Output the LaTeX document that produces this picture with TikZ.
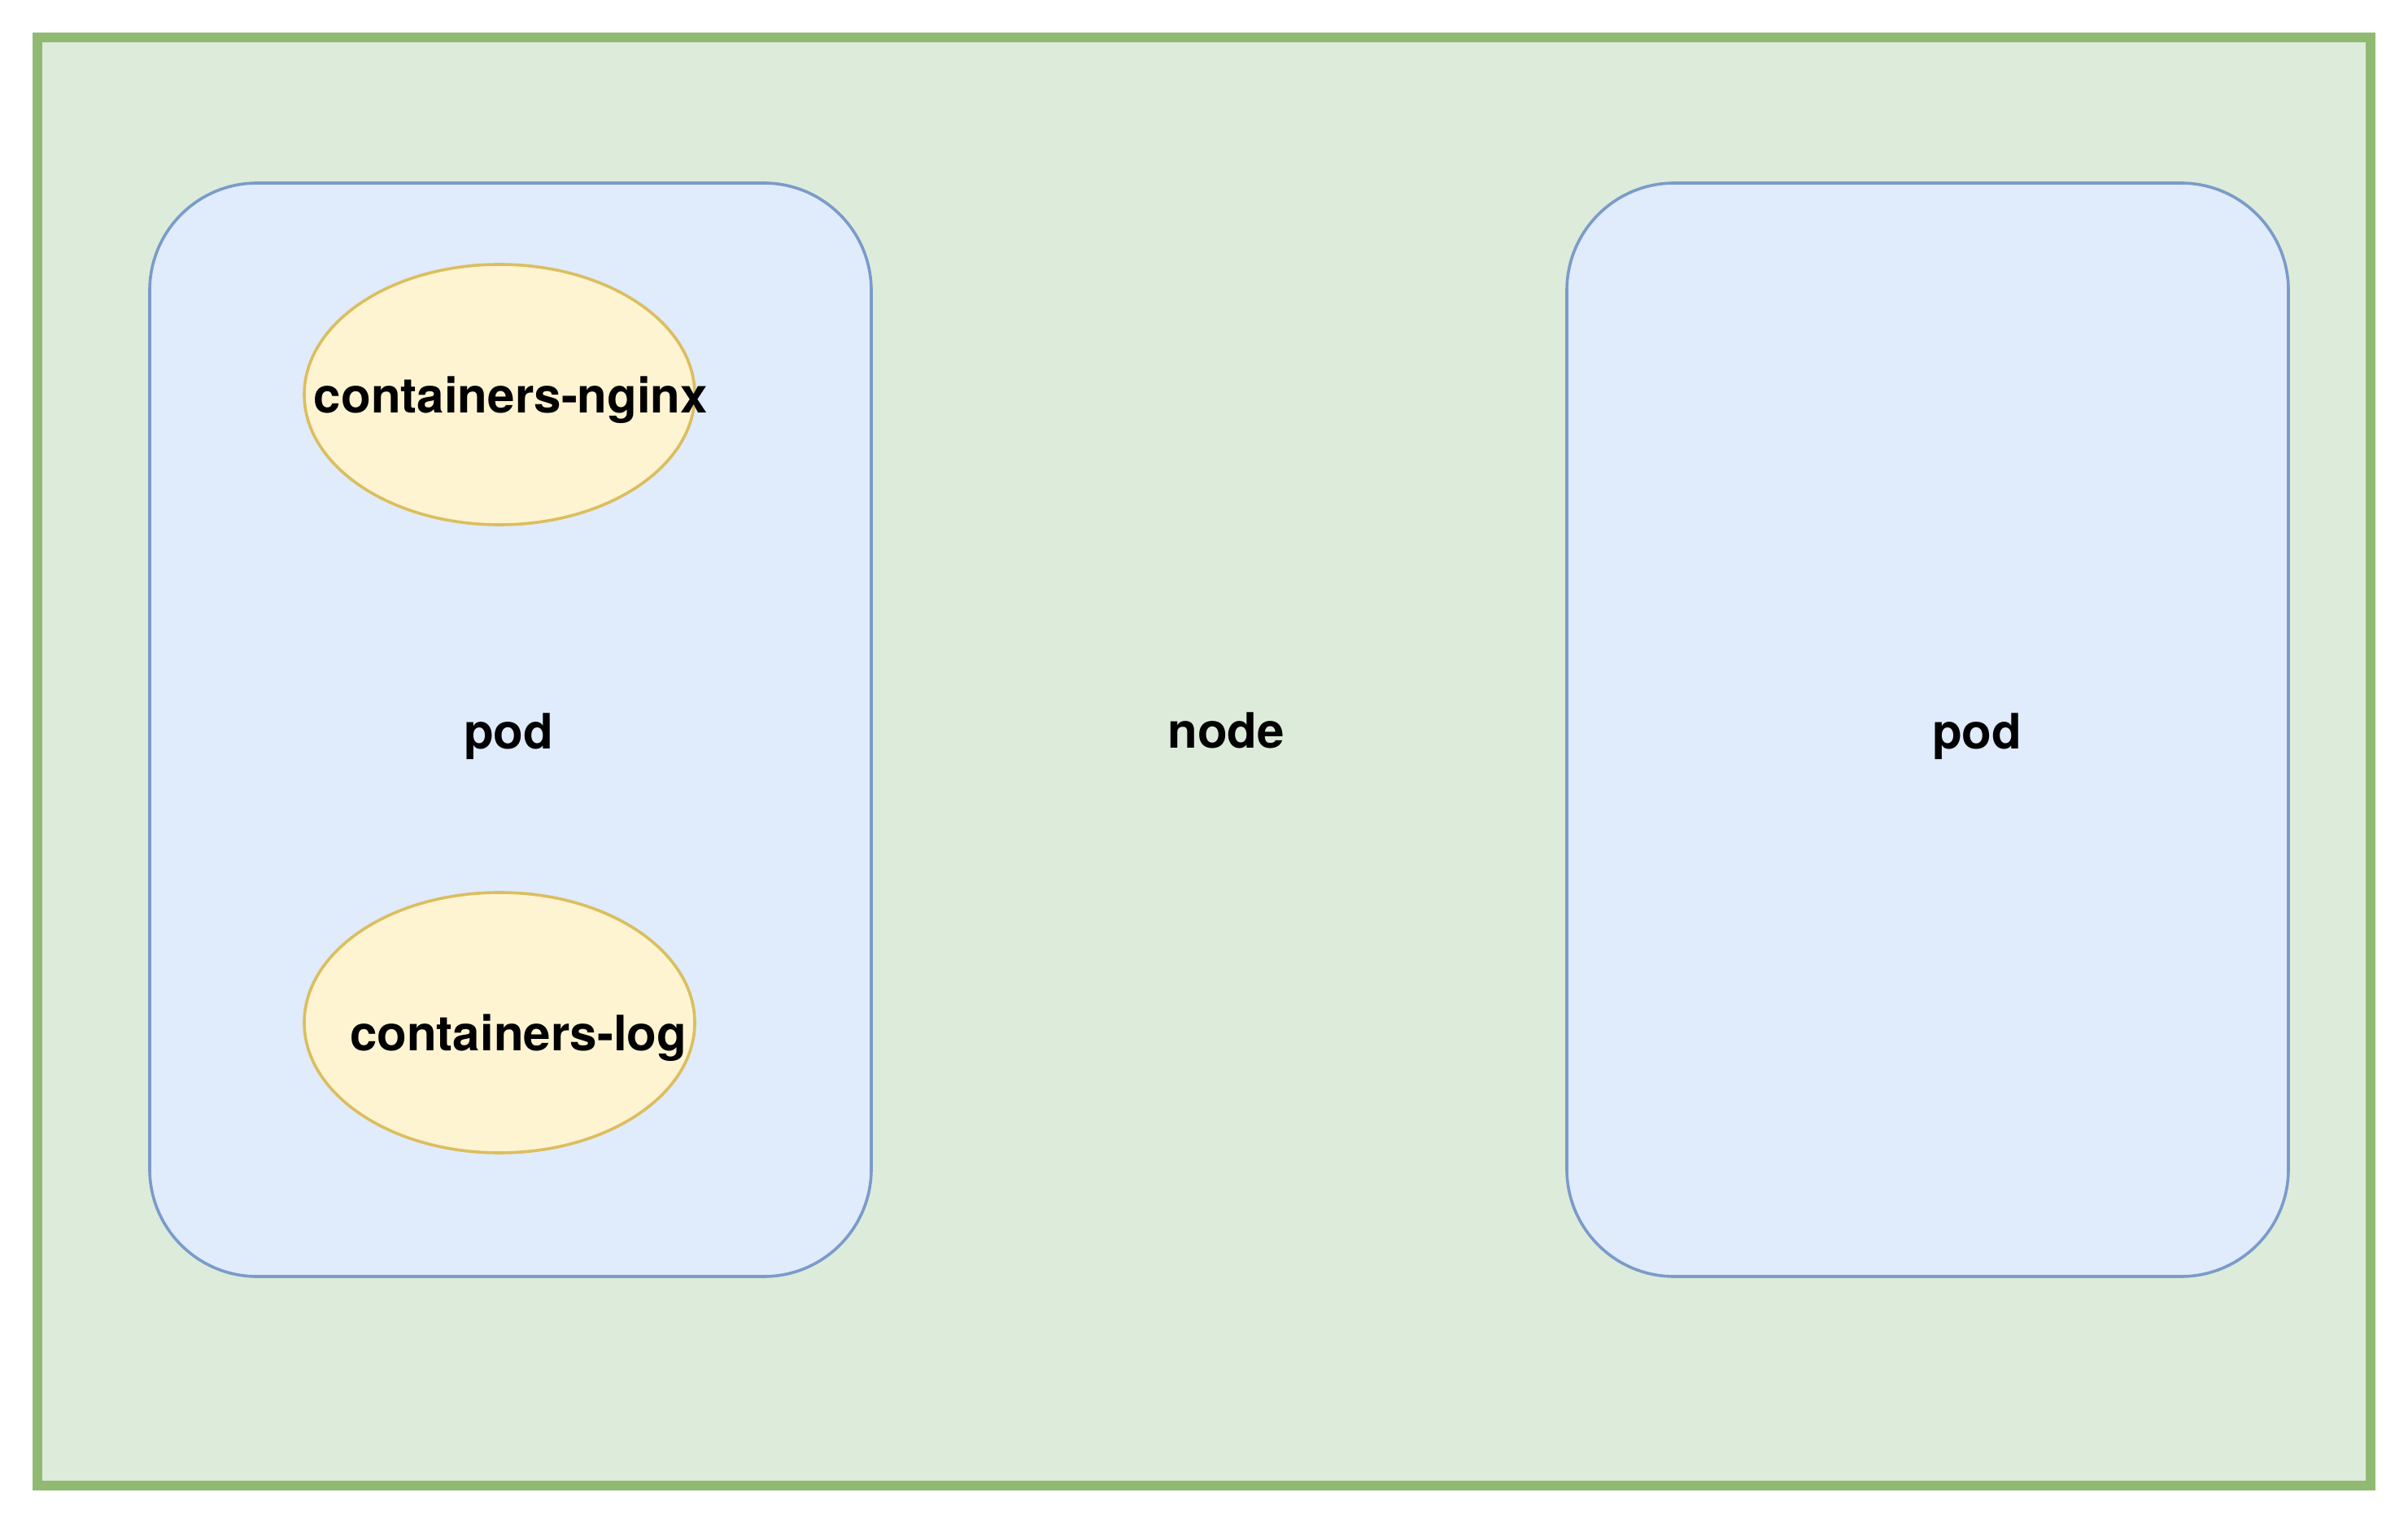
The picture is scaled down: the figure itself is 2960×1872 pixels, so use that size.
\documentclass[tikz,border=0pt]{standalone}
\usepackage{fontspec}
\setmainfont{TeX Gyre Heros}
\usepackage{tikz}
\usetikzlibrary{shapes.geometric}
\definecolor{nodefill}{HTML}{DDEBDA}
\definecolor{nodeline}{HTML}{90BA72}
\definecolor{podfill}{HTML}{E0EBFC}
\definecolor{podline}{HTML}{7A9BCA}
\definecolor{ctrfill}{HTML}{FFF4D2}
\definecolor{ctrline}{HTML}{DBBE5E}

\begin{document}
\begin{tikzpicture}[x=0.25pt,y=-0.25pt]
            \tikzset{
            k8s node/.style={rectangle,draw=nodeline,fill=nodefill,line width=3pt,minimum width=717pt,minimum height=445pt,inner sep=0},
            k8s pod/.style={rectangle,rounded corners=33pt,draw=podline,fill=podfill,line width=0.9pt,minimum width=221.75pt,minimum height=336pt,inner sep=0},
            k8s ctr/.style={ellipse,draw=ctrline,fill=ctrfill,line width=0.9pt,minimum width=120pt,minimum height=80pt,inner sep=0},
            k8s label/.style={anchor=base,inner sep=0,font=\bfseries\fontsize{15pt}{18pt}\selectfont}
            }
            \useasboundingbox (0,0) rectangle (2960,1872);
            \node[k8s node] (node) at (1480, 936) {};
            \node[k8s pod] (pod1) at (627.5, 897) {};
            \node[k8s pod] (pod2) at (2369.5, 897) {};
            \node[k8s ctr] (nginx) at (614, 485) {};
            \node[k8s ctr] (log) at (614, 1257) {};

            \node[k8s label] (node text) at (1507, 920) {node};
            \node[k8s label] (pod1 text) at (625, 921) {pod};
            \node[k8s label] (pod2 text) at (2430, 921) {pod};
            \node[k8s label] (nginx text) at (628, 508) {containers-nginx};
            \node[k8s label] (log text) at (637, 1292) {containers-log};
        \end{tikzpicture}
\end{document}
